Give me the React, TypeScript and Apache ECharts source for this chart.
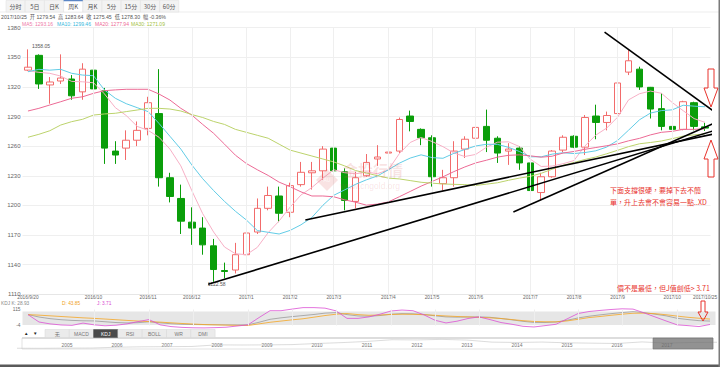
import React, { useEffect, useRef } from 'react';
import * as echarts from 'echarts';

// ---------- data (weekly, 63 candles) ----------
const xLabels = [
  '2016/9/20', '', '', '', '', '', '2016/10', '', '', '', '', '2016/11', '', '', '', '2016/12', '', '', '', '', '2017/1',
  '', '', '', '2017/2', '', '', '', '2017/3', '', '', '', '', '2017/4', '', '', '', '2017/5', '', '', '', '2017/6',
  '', '', '', '', '2017/7', '', '', '', '2017/8', '', '', '', '2017/9', '', '', '', '', '2017/10', '', '', '2017/10/25',
];
const opens = [1337, 1352, 1322, 1326, 1328, 1315, 1337, 1316, 1255, 1258, 1266, 1278, 1293, 1228, 1207, 1183, 1177, 1159, 1134, 1134.5, 1150, 1173, 1197, 1209.5, 1193, 1221, 1233, 1235, 1258, 1234, 1204, 1230, 1247, 1253, 1255, 1290.5, 1277, 1268.5, 1222, 1228, 1257, 1268, 1280, 1268, 1255, 1258, 1243, 1213, 1229, 1256, 1270, 1259, 1290.5, 1284, 1293, 1335, 1338, 1319.6, 1298, 1280, 1277, 1304, 1279.54];
const closes = [1340, 1323, 1325, 1329, 1311, 1338, 1318, 1258, 1251, 1266, 1276, 1304, 1228, 1209, 1184, 1177, 1160, 1135, 1133, 1150, 1172, 1197, 1210, 1192, 1220, 1233.5, 1235, 1257, 1235, 1205, 1228, 1243.5, 1249, 1254, 1287, 1285, 1268.5, 1229, 1228, 1255, 1267, 1279, 1266, 1253, 1257, 1243, 1215, 1229, 1255, 1269, 1259, 1289, 1284, 1291, 1324, 1346.5, 1320, 1297.6, 1280, 1277, 1305, 1280, 1278.3];
const lows = [1336, 1318, 1303, 1323, 1307, 1307, 1313, 1242, 1242, 1246, 1260, 1271, 1219, 1203, 1171, 1160, 1150, 1122.58, 1126, 1131, 1145, 1171, 1195, 1183, 1188, 1219, 1216, 1226, 1232.5, 1195, 1197, 1229, 1240, 1244, 1253, 1275, 1261, 1219, 1215, 1219, 1248, 1259, 1254, 1243, 1241, 1236, 1204, 1205, 1228, 1254, 1258, 1251, 1267, 1276, 1292.5, 1332, 1317, 1288, 1276, 1266, 1276, 1276, 1275.45];
const highs = [1358.05, 1353, 1330, 1353, 1332, 1344, 1343, 1319, 1265, 1276, 1285, 1310, 1338, 1233, 1221, 1198, 1188, 1166, 1142, 1162, 1185, 1207, 1219, 1219, 1223, 1244, 1244, 1260, 1263.5, 1237.5, 1234, 1252, 1261, 1271, 1289, 1296, 1278, 1271, 1236, 1265, 1270, 1281, 1297, 1270, 1263, 1260, 1245, 1233, 1256, 1271, 1271, 1291.5, 1302, 1295, 1329, 1358, 1340.5, 1320, 1313.5, 1280.5, 1306, 1305, 1283.64];

const ma5 = [1336.4, 1334.8, 1333.8, 1331, 1325.6, 1325.2, 1324.2, 1313, 1299, 1291, 1280, 1276, 1269, 1257, 1240, 1215, 1191.6, 1173, 1157.8, 1151, 1150, 1157.4, 1172.4, 1184.2, 1198.2, 1210.5, 1218.1, 1227.5, 1236.1, 1233.1, 1232, 1233.7, 1232.1, 1235.9, 1252.3, 1263.7, 1268.7, 1264.7, 1259.5, 1253.1, 1249.5, 1251.6, 1259, 1264, 1264.4, 1259.6, 1246.8, 1239.4, 1239.8, 1242.2, 1245.4, 1260.2, 1271.2, 1278.4, 1289.4, 1306.9, 1313.1, 1315.8, 1313.6, 1304.2, 1295.9, 1287.9, 1284.1];
const ma10 = [1335.4, 1337.8, 1337, 1337.8, 1333.8, 1332, 1331.4, 1317, 1308.5, 1303, 1299, 1295, 1283, 1270, 1257, 1241, 1227, 1215, 1204, 1194, 1185.2, 1174.5, 1172.7, 1171, 1174.6, 1180.3, 1187.8, 1200, 1210.2, 1215.7, 1221.3, 1225.9, 1229.8, 1236, 1242.7, 1247.9, 1251.2, 1248.4, 1247.7, 1252.7, 1256.6, 1260.2, 1261.9, 1261.8, 1258.8, 1254.6, 1249.2, 1249.2, 1251.9, 1253.3, 1252.5, 1253.5, 1255.3, 1259.1, 1265.8, 1276.2, 1286.7, 1293.5, 1296, 1296.8, 1301.4, 1300.5, 1299.9];
const ma20 = [1295.6, 1298.3, 1301.7, 1305, 1308.5, 1310, 1313.5, 1316.2, 1317, 1317.6, 1317.6, 1317.6, 1312.8, 1306.7, 1298.3, 1291.5, 1282, 1273, 1262, 1250.8, 1242.4, 1236.1, 1230.3, 1223.5, 1218.9, 1213.7, 1209.5, 1209.5, 1208.7, 1205.6, 1203.2, 1200.2, 1201.3, 1203.5, 1208.7, 1214.1, 1219.5, 1224.2, 1228.9, 1234.2, 1238.9, 1243, 1245.8, 1248.9, 1250.7, 1251.2, 1250.2, 1248.8, 1249.8, 1253, 1254.6, 1256.8, 1258.6, 1260.4, 1262.3, 1265.4, 1267.9, 1271.4, 1274, 1275, 1277, 1277, 1277.6];
const ma30 = [1269, 1272, 1275.6, 1281.4, 1284.8, 1287.2, 1291.5, 1292.6, 1293.3, 1295, 1296.6, 1298.3, 1298.3, 1297.6, 1295.6, 1292, 1289, 1285, 1282, 1277, 1274, 1271, 1268, 1262, 1256, 1253, 1250, 1247, 1244, 1240, 1235.3, 1232.7, 1230.1, 1227.6, 1226.8, 1225.1, 1223.4, 1222.5, 1221.7, 1221.3, 1221, 1220.2, 1221.5, 1222.9, 1225.4, 1227.6, 1229.4, 1232.5, 1236.6, 1240.6, 1243.5, 1246.5, 1249, 1252.3, 1255.8, 1259.5, 1262.4, 1263.7, 1265.2, 1267.6, 1270.2, 1271.4, 1272.4];

const kValues = [77, 59, 47, 39, 34, 31, 30, 24, 18, 15, 17, 24, 16, 9, 5, 3, 2, 1, 0.5, 0.5, 1, 20, 42, 53, 62, 70, 78, 88, 92, 77, 67, 65, 70, 80, 84, 83, 78, 68, 60, 58, 59, 60, 57, 48, 38, 27, 19, 18, 22, 35, 52, 65, 75, 84, 92, 99, 92, 80, 68, 50, 40, 32, 28.93];
const dValues = [77, 73, 68, 63, 58, 53, 49, 44, 39, 34, 29, 25, 21, 16, 11, 7, 3, 1, -1, -3, -4, 8, 20, 29, 38, 46, 58, 70, 80, 85, 77, 72, 74, 78, 80, 79, 76, 72, 67, 63, 60, 56, 53, 48, 40, 32, 26, 24, 23, 30, 42, 55, 63, 72, 80, 87, 88, 84, 76, 66, 57, 50, 43.85];
const jValues = [77, 22, 8, 0, -3, 14, 1, -6, -2, 8, 25, 40, 1, -12, -18, -21, -22, -20, -17, -8, 1, 55, 106, 106, 118, 129, 129, 125, 105, 49, 49, 60, 80, 104, 111, 106, 75, 35, 15, 28, 48, 60, 40, 18, 5, -10, -15, -5, 5, 45, 85, 100, 108, 115, 120, 118, 90, 60, 30, 1, -5, -12, 3.71];

// trend lines drawn on the chart: [start, end] as [week index, price]
const trendLines = [
  [[16.5, 1120], [62.9, 1276]],
  [[25.4, 1185.2], [62.9, 1272.6]],
  [[44.45, 1193.2], [62.9, 1283.7]],
  [[52.8, 1375.6], [62.9, 1294.6]],
];

// navigator (long history)
const navPeriods = ['2004', '2004.5', '2005', '2005.5', '2006', '2006.5', '2007', '2007.5', '2008', '2008.5', '2009', '2009.5', '2010', '2010.5', '2011', '2011.5', '2012', '2012.5', '2013', '2013.5', '2014', '2014.5', '2015', '2015.5', '2016', '2016.5', '2017', '2017.5', '2018'];
const navValues = [410, 400, 430, 440, 560, 620, 640, 670, 900, 880, 900, 940, 1100, 1230, 1400, 1650, 1620, 1700, 1600, 1300, 1250, 1310, 1200, 1150, 1100, 1330, 1160, 1250, 1280];

const tabs = ['分时', '5日', '日K', '周K', '月K', '5分', '15分', '30分', '60分'];
const indicatorButtons = ['无', 'MACD', 'KDJ', 'RSI', 'BOLL', 'WR', 'DMI'];
const infoLine = '2017/10/25  开 1279.54  高 1283.64  收 1275.45  低 1278.30  幅 -0.36%';
const maLegend = [
  { text: 'MA5: 1293.16', color: '#ee7aa6', x: 22 },
  { text: 'MA10: 1299.46', color: '#35b8dc', x: 57 },
  { text: 'MA20: 1277.94', color: '#ee6b96', x: 95 },
  { text: 'MA30: 1271.09', color: '#a3c040', x: 131 },
];
const noteLines = ['下面支撐很硬，要掉下去不簡', '單，升上去會不會容易一點..XD'];
const noteKdj = '價不是最低，但J值創低> 3.71';

const FONT = 'Liberation Sans, Noto Sans CJK SC, sans-serif';
const CJK = 'Noto Sans CJK TC, sans-serif';
const RED = '#e8332c';

function buildOption() {
  const cats = xLabels.map((_, i) => String(i));
  const monthIdx = xLabels.map((l, i) => (l && i > 0 && i < xLabels.length - 1 ? i : -1)).filter((i) => i >= 0);
  const vLines = monthIdx.map((i) => ({ xAxis: cats[i] }));
  const candleData = opens.map((o, i) => [o, closes[i], lows[i], highs[i]]);

  const text = (x: number, y: number, t: string, fill: string, size: number, extra: any = {}) => ({
    type: 'text', x, y, z: 100,
    style: { text: t, fill, fontSize: size, fontFamily: FONT, verticalAlign: 'middle', align: 'left', ...extra },
  });

  const graphics: any[] = [];
  // tabs
  const tabW = 19.2;
  tabs.forEach((t, i) => {
    const x0 = 6 + i * tabW;
    graphics.push({ type: 'rect', z: 90, shape: { x: x0, y: 0.5, width: tabW, height: 11.5 },
      style: { fill: i === 3 ? '#ffffff' : '#f3f3f3', stroke: '#dedede', lineWidth: 0.5 } });
    if (i === 3) graphics.push({ type: 'rect', z: 91, shape: { x: x0, y: 0, width: tabW, height: 1.2 }, style: { fill: '#5b86c5' } });
    graphics.push(text(x0 + tabW / 2, 6.3, t, '#555', 6, { align: 'center', fontFamily: 'Noto Sans CJK SC, sans-serif' }));
  });
  graphics.push({ type: 'rect', z: 89, shape: { x: 0, y: 11.8, width: 719, height: 0.5 }, style: { fill: '#dcdcdc' } });
  // info + legend
  graphics.push(text(1, 17.3, infoLine, '#555', 5.2, { fontFamily: 'Liberation Sans, Noto Sans CJK SC, sans-serif' }));
  maLegend.forEach((m) => graphics.push(text(m.x, 24, m.text, m.color, 5)));
  // KDJ header
  graphics.push(text(1, 303.4, 'KDJ K: 28.93', '#888', 4.8));
  graphics.push(text(62, 303.4, 'D: 43.85', '#f0a020', 4.8));
  graphics.push(text(97, 303.4, 'J: 3.71', '#d84bd0', 4.8));
  // annotations
  graphics.push(text(610, 190, noteLines[0], RED, 7, { fontFamily: CJK }));
  graphics.push(text(610, 202, noteLines[1], RED, 7, { fontFamily: CJK }));
  graphics.push(text(617, 288, noteKdj, RED, 7, { fontFamily: CJK }));
  const arrowStyle = { fill: 'none', stroke: RED, lineWidth: 1 };
  graphics.push({ type: 'polygon', z: 100, shape: { points: [[708, 69], [714, 69], [714, 88], [718, 88], [711, 107], [704, 88], [708, 88]] }, style: arrowStyle });
  graphics.push({ type: 'polygon', z: 100, shape: { points: [[711, 140], [718, 159], [714, 159], [714, 177], [708, 177], [708, 159], [704, 159]] }, style: arrowStyle });
  graphics.push({ type: 'polygon', z: 100, shape: { points: [[701, 301], [705, 301], [705, 312], [708, 312], [703, 321], [698, 312], [701, 312]] }, style: arrowStyle });
  // watermark
  graphics.push({ type: 'polygon', z: 50, shape: { points: [[327, 169], [338, 180], [327, 191], [316, 180]] }, style: { fill: 'rgba(215,80,80,0.16)' } });
  graphics.push({ type: 'text', z: 51, x: 327, y: 180, style: { text: 'AU', fill: 'rgba(255,255,255,0.8)', fontSize: 5, fontFamily: FONT, align: 'center', verticalAlign: 'middle' } });
  graphics.push({ type: 'text', z: 50, x: 343, y: 169, style: { text: '金投行情', fill: 'rgba(215,80,80,0.16)', fontSize: 15, fontWeight: 'bold', fontFamily: 'Noto Sans CJK SC, sans-serif', verticalAlign: 'middle' } });
  graphics.push({ type: 'text', z: 50, x: 340, y: 186, style: { text: 'www.cngold.org', fill: 'rgba(215,80,80,0.16)', fontSize: 8.5, fontFamily: FONT, verticalAlign: 'middle' } });
  // indicator buttons
  graphics.push(text(24, 333.5, '▲', '#222', 4.5));
  graphics.push(text(33, 333.5, '▼', '#222', 4.5));
  const bw = 24.3;
  indicatorButtons.forEach((b, i) => {
    const x0 = 45 + i * bw;
    const sel = i === 2;
    graphics.push({ type: 'rect', z: 90, shape: { x: x0, y: 329.5, width: bw, height: 8 },
      style: { fill: sel ? '#4a4a4a' : '#ebebeb', stroke: sel ? '#4a4a4a' : '#d6d6d6', lineWidth: 0.5 } });
    graphics.push(text(x0 + bw / 2, 333.6, b, sel ? '#fff' : '#777', 5, { align: 'center' }));
  });
  // navigator frame + window
  graphics.push({ type: 'rect', z: 1, shape: { x: 22, y: 338, width: 691, height: 11 }, style: { fill: 'none', stroke: '#d0d0d0', lineWidth: 0.6 } });
  graphics.push({ type: 'rect', z: 1, shape: { x: 22, y: 337.5, width: 691, height: 1 }, style: { fill: '#c9c9c9' } });
  graphics.push({ type: 'rect', z: 60, shape: { x: 653, y: 338, width: 60, height: 11 }, style: { fill: 'rgba(110,110,110,0.75)', stroke: '#777', lineWidth: 0.6 } });
  // frame lines
  graphics.push({ type: 'rect', z: 100, shape: { x: 0, y: 364.5, width: 720, height: 2.5 }, style: { fill: '#5a5a5a' } });
  graphics.push({ type: 'rect', z: 100, shape: { x: 718.5, y: 0, width: 1.5, height: 367 }, style: { fill: '#7a7a7a' } });

  const maSeries = [
    { name: 'MA5', data: ma5, color: '#f7b0c6' },
    { name: 'MA10', data: ma10, color: '#62cce6' },
    { name: 'MA20', data: ma20, color: '#ec6a95' },
    { name: 'MA30', data: ma30, color: '#bcd36c' },
  ].map((m) => ({
    name: m.name, type: 'line', xAxisIndex: 0, yAxisIndex: 0, data: m.data, showSymbol: false, z: 3,
    lineStyle: { color: m.color, width: 1 }, itemStyle: { color: m.color },
  }));

  const trendSeries = trendLines.map((seg, i) => ({
    name: 'trend' + i, type: 'line', xAxisIndex: 1, yAxisIndex: 0, data: seg, showSymbol: false, clip: false, z: 5,
    lineStyle: { color: '#000', width: 1.6 },
  }));

  const kdjSeries = [
    { name: 'K', data: kValues, color: '#9a9a9a' },
    { name: 'D', data: dValues, color: '#f5a623' },
    { name: 'J', data: jValues, color: '#dc50d4' },
  ].map((s, i) => ({
    name: s.name, type: 'line', xAxisIndex: 2, yAxisIndex: 1, data: s.data, showSymbol: false, clip: false, z: 3,
    lineStyle: { color: s.color, width: 0.8 },
    ...(i === 0
      ? {
          markArea: { silent: true, itemStyle: { color: '#e6e6e6' }, data: [[{ yAxis: 0 }, { yAxis: 100 }]] },
          markLine: { silent: true, symbol: ['none', 'none'], label: { show: false }, lineStyle: { color: '#eeeeee', type: 'solid', width: 1 }, data: vLines },
        }
      : {}),
  }));

  return {
    animation: false,
    backgroundColor: '#ffffff',
    textStyle: { fontFamily: FONT },
    grid: [
      { left: 22.5, right: 4.5, top: 27.7, height: 266.5 },
      { left: 22.5, right: 4.5, top: 309.5, height: 16 },
      { left: 17, right: 3, top: 338, height: 11 },
    ],
    xAxis: [
      {
        type: 'category', gridIndex: 0, data: cats, boundaryGap: true,
        axisLine: { show: true, lineStyle: { color: '#e6e6e6' } }, axisTick: { show: false },
        axisLabel: { interval: 0, fontSize: 4.8, color: '#666', margin: 0.8, formatter: (_v: string, i: number) => xLabels[i] },
        splitLine: { show: false },
      },
      { type: 'value', gridIndex: 0, min: -0.5, max: 62.5, show: false },
      { type: 'category', gridIndex: 1, data: cats, boundaryGap: true, show: false },
      {
        type: 'category', gridIndex: 2, data: navPeriods, boundaryGap: false,
        axisLine: { show: false }, axisTick: { show: false }, splitLine: { show: false },
        axisLabel: {
          inside: true, interval: 0, fontSize: 5, color: '#777', margin: 2,
          formatter: (v: string, i: number) => (v.indexOf('.') < 0 && i > 0 && i < navPeriods.length - 1 ? v : ''),
        },
      },
    ],
    yAxis: [
      {
        type: 'value', gridIndex: 0, min: 1110, max: 1380, interval: 30,
        axisLine: { show: false }, axisTick: { show: false },
        axisLabel: { fontSize: 6, color: '#666', margin: 2, formatter: (v: number) => String(v) },
        splitLine: { show: true, lineStyle: { color: '#efefef', width: 1 } },
      },
      {
        type: 'value', gridIndex: 1, min: -4, max: 115, interval: 119,
        axisLine: { show: false }, axisTick: { show: false }, splitLine: { show: false },
        axisLabel: { fontSize: 4.8, color: '#666', margin: 2, showMinLabel: true, showMaxLabel: true,
          formatter: (v: number) => (v === -4 || v === 115 ? String(v) : '') },
      },
      { type: 'value', gridIndex: 2, min: 300, max: 1900, show: false },
    ],
    graphic: graphics,
    series: [
      {
        name: 'K线', type: 'candlestick', xAxisIndex: 0, yAxisIndex: 0, data: candleData, barWidth: 7, z: 2,
        itemStyle: { color: '#ffffff', color0: '#0a9e0a', borderColor: '#f26b6b', borderColor0: '#0a9e0a', borderWidth: 1 },
        markLine: { silent: true, symbol: ['none', 'none'], label: { show: false }, lineStyle: { color: '#efefef', type: 'solid', width: 1 }, data: vLines },
        markPoint: {
          silent: true, symbol: 'circle', symbolSize: 0.1, itemStyle: { color: 'rgba(0,0,0,0)' },
          data: [
            { coord: [cats[0], highs[0]], label: { show: true, formatter: '1358.05', position: 'right', distance: 0, offset: [4, -3], fontSize: 5, color: '#555' } },
            { coord: [cats[17], lows[17]], label: { show: true, formatter: '1122.58', position: 'bottom', distance: 0, offset: [3, 0], fontSize: 5, color: '#555' } },
          ],
        },
      },
      ...maSeries,
      ...trendSeries,
      ...kdjSeries,
      {
        name: 'nav', type: 'line', xAxisIndex: 3, yAxisIndex: 2, data: navValues, showSymbol: false, z: 2,
        lineStyle: { color: '#c4c4c4', width: 0.6 },
      },
    ],
  };
}

export default function App() {
  const ref = useRef<HTMLDivElement>(null);
  useEffect(() => {
    document.body.style.margin = '0';
    const chart = echarts.init(ref.current as HTMLDivElement, undefined, { renderer: 'svg' });
    chart.setOption(buildOption() as any);
    return () => chart.dispose();
  }, []);
  return <div ref={ref} style={{ width: 720, height: 367 }} />;
}
